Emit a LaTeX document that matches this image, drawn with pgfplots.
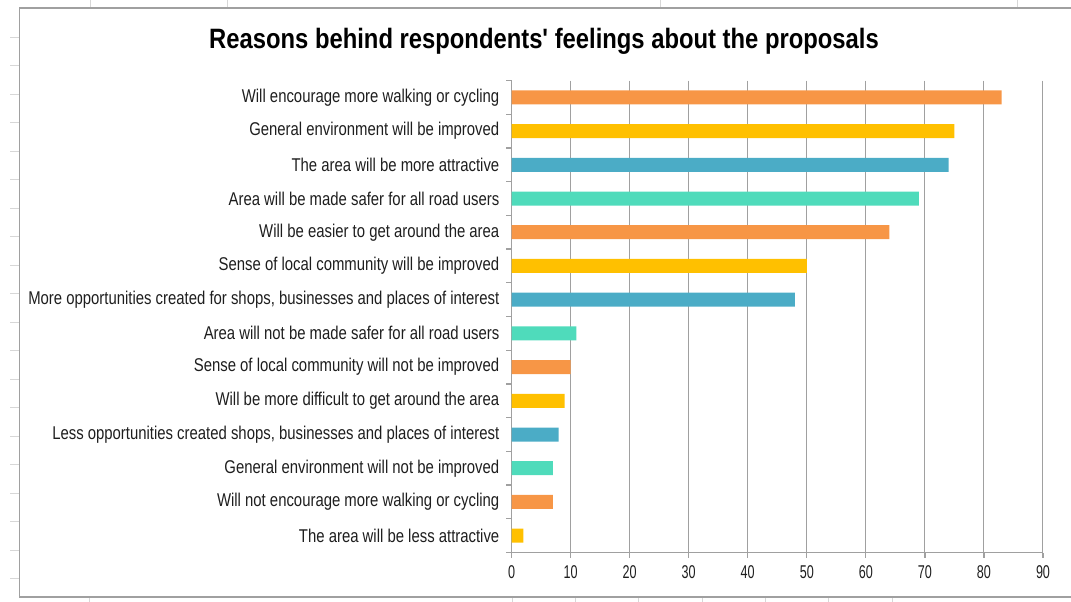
\documentclass[border=0pt]{standalone}
\usepackage{fontspec}
\setmainfont{Liberation Sans}[FakeStretch=0.805]
\newfontfamily\titlefont{Liberation Sans}[FakeStretch=0.85]
\newfontfamily\numfont{Liberation Sans}[FakeStretch=0.68]
\usepackage{pgfplots}
\pgfplotsset{compat=1.18}

\definecolor{barorange}{RGB}{247,150,70}
\definecolor{baryellow}{RGB}{255,192,0}
\definecolor{barblue}{RGB}{75,172,198}
\definecolor{barteal}{RGB}{79,219,187}
\definecolor{axgray}{RGB}{160,160,160}
\definecolor{sheetgray}{RGB}{215,215,215}
\definecolor{labeltext}{RGB}{30,30,30}

\begin{document}
\begin{tikzpicture}[x=1pt,y=1pt]
\useasboundingbox (0,0) rectangle (1071,-602);
% spreadsheet cells behind the chart
\foreach \y in {37,65.5,...,590} \draw[sheetgray] (10,-\y) -- (19,-\y);
\foreach \x in {90,227,660,1017} \draw[sheetgray] (\x,0) -- (\x,-8);
\foreach \x in {89,512,575,638,702,765,828,892} \draw[sheetgray] (\x,-597) -- (\x,-602);
\draw[axgray, line width=1.6pt] (19.5,-8) rectangle (1090,-597);

\node[font=\titlefont\bfseries\fontsize{28}{30}\selectfont] at (544,-41)
  {Reasons behind respondents' feelings about the proposals};

\begin{axis}[
  at={(511.5pt,-80.5pt)}, anchor=north west,
  scale only axis, width=531.5pt, height=472pt,
  xmin=0, xmax=90, ymin=0.5, ymax=14.5, y dir=reverse,
  xbar, bar width=14pt, bar shift=0pt,
  axis x line*=bottom, axis y line*=left,
  axis line style={axgray, line width=1.3pt},
  xtick={0,10,...,90},
  xmajorgrids=true,
  grid style={axgray, line width=1pt},
  x tick style={axgray, line width=1.3pt},
  tick align=outside, major tick length=5pt,
  /pgf/number format/assume math mode=true,
  xticklabel style={font=\numfont\fontsize{18.5}{20}\selectfont, text=labeltext, inner sep=0pt, yshift=-8pt},
  ytick={1,...,14},
  y tick style={draw=none},
  yticklabel style={font=\fontsize{18.5}{20}\selectfont, text=labeltext, anchor=east, inner sep=0pt, xshift=-7pt},
  yticklabels={
    Will encourage more walking or cycling,
    General environment will be improved,
    The area will be more attractive,
    Area will be made safer for all road users,
    Will be easier to get around the area,
    Sense of local community will be improved,
    {More opportunities created for shops, businesses and places of interest},
    Area will not be made safer for all road users,
    Sense of local community will not be improved,
    Will be more difficult to get around the area,
    {Less opportunities created shops, businesses and places of interest},
    General environment will not be improved,
    Will not encourage more walking or cycling,
    The area will be less attractive},
  extra y ticks={0.5,1.5,...,14.5},
  extra y tick labels={},
  extra y tick style={grid=none, y tick style={draw=axgray, line width=1.3pt}},
]
\addplot[fill=barorange, draw=none] coordinates {(83,1) (64,5) (10,9) (7,13)};
\addplot[fill=baryellow, draw=none] coordinates {(75,2) (50,6) (9,10) (2,14)};
\addplot[fill=barblue, draw=none] coordinates {(74,3) (48,7) (8,11)};
\addplot[fill=barteal, draw=none] coordinates {(69,4) (11,8) (7,12)};
\end{axis}
\end{tikzpicture}
\end{document}
